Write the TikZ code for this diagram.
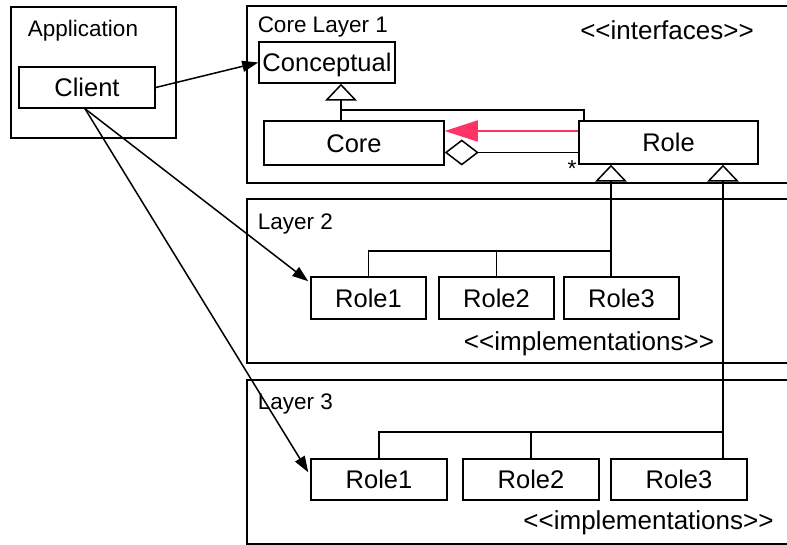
\documentclass[tikz,border=0pt]{standalone}
\usepackage{fontspec}
\setmainfont{Liberation Sans}
\usetikzlibrary{arrows.meta,calc}
\definecolor{pinkred}{RGB}{255,51,102}
\begin{document}
\begin{tikzpicture}[x=1pt,y=-1pt, line width=1.5pt,
  box/.style={draw, line width=1.5pt, inner sep=0pt, fill=white,
    font=\fontsize{25.5}{30}\selectfont, text height=18.3pt, text depth=0pt},
  layer/.style={draw, line width=1.5pt, inner sep=0pt},
  lbl/.style={font=\fontsize{22.5}{27}\selectfont, inner sep=0pt, anchor=base west},
  stereo/.style={font=\fontsize{26}{30}\selectfont, inner sep=0pt, anchor=base},
  gen/.style={-{Triangle[open,fill=white,length=17pt,width=32pt]}},
  aggr/.style={{Diamond[open,fill=white,length=34pt,width=26pt]}-},
  dep/.style={-{Triangle[length=16pt,width=11pt]}},
  pinkarr/.style={draw=pinkred, -{Triangle[length=33pt,width=21pt]}, line width=1.8pt}
]
\useasboundingbox (0,0) rectangle (787,545);
\clip (0,0) rectangle (787,545);
\fill[white] (0,0) rectangle (787,545);

% containers
\node[layer, minimum width=165pt, minimum height=131pt] (app) at (93.5,72.5) {};
\node[layer, minimum width=553pt, minimum height=177pt] (L1) at (523.5,94.5) {};
\node[layer, minimum width=553pt, minimum height=164pt] (L2) at (523.5,281) {};
\node[layer, minimum width=553pt, minimum height=164pt] (L3) at (523.5,462) {};

% labels
\node[lbl, anchor=base] (tapp) at (83,37) {Application};
\node[lbl] (tl1) at (257,33) {Core Layer 1};
\node[lbl] (tl2) at (257,230) {Layer 2};
\node[lbl] (tl3) at (257,409) {Layer 3};
\node[stereo] (sif) at (667,40) {<{}<interfaces>{}>};
\node[stereo] (sim2) at (589,350) {<{}<implementations>{}>};
\node[stereo] (sim3) at (648.5,529) {<{}<implementations>{}>};

% class boxes
\node[box, minimum width=136pt, minimum height=41pt] (client) at (87,87.5) {Client};
\node[box, minimum width=136pt, minimum height=41pt] (concept) at (327,62.5) {Conceptual};
\node[box, minimum width=180pt, minimum height=44pt] (core) at (354,143) {Core};
\node[box, minimum width=179pt, minimum height=43pt] (role) at (668.5,142.5) {Role};
\node[box, minimum width=115pt, minimum height=42pt] (r21) at (368.5,298) {Role1};
\node[box, minimum width=115pt, minimum height=42pt] (r22) at (496.5,298) {Role2};
\node[box, minimum width=115pt, minimum height=42pt] (r23) at (621.5,298) {Role3};
\node[box, minimum width=136pt, minimum height=41pt] (r31) at (379,479.5) {Role1};
\node[box, minimum width=136pt, minimum height=41pt] (r32) at (531,479.5) {Role2};
\node[box, minimum width=136pt, minimum height=41pt] (r33) at (679,479.5) {Role3};

% helper coordinates
\coordinate (g1) at (341,110);
\coordinate (g1r) at (584,110);
\coordinate (g2) at (611,251);
\coordinate (g3) at (723,432);
\coordinate (agg) at (500,152.5);
\coordinate (pk) at (500,131);
\coordinate (cs) at ($(client.south)+(-2,0)$);

% Core layer 1 relations
\draw[gen] (g1 |- core.north) -- (g1 |- concept.south);
\draw (g1) -- (g1r) -- (g1r |- role.north);
\draw[aggr] (agg -| core.east) -- (agg -| role.west);
\draw[pinkarr] (pk -| role.west) -- (pk -| core.east);
\node[font=\fontsize{23}{27}\selectfont, inner sep=0pt, anchor=base] (star) at (572,177) {*};

% layer 2 generalization
\draw[gen] (g2 |- r23.north) -- (g2 |- role.south);
\draw (r21.north) |- (g2);
\draw (r22.north) -- (r22.north |- g2);

% layer 3 generalization
\draw[gen] (g3 |- r33.north) -- (g3 |- role.south);
\draw (r31.north) |- (g3);
\draw (r32.north) -- (r32.north |- g3);

% client dependencies
\draw[dep] (client.east) -- (concept.west);
\draw[dep] (cs) -- ($(r21.north west)+(-2,5)$);
\draw[dep] (cs) -- ($(r31.north west)+(-2,14)$);
\end{tikzpicture}
\end{document}
